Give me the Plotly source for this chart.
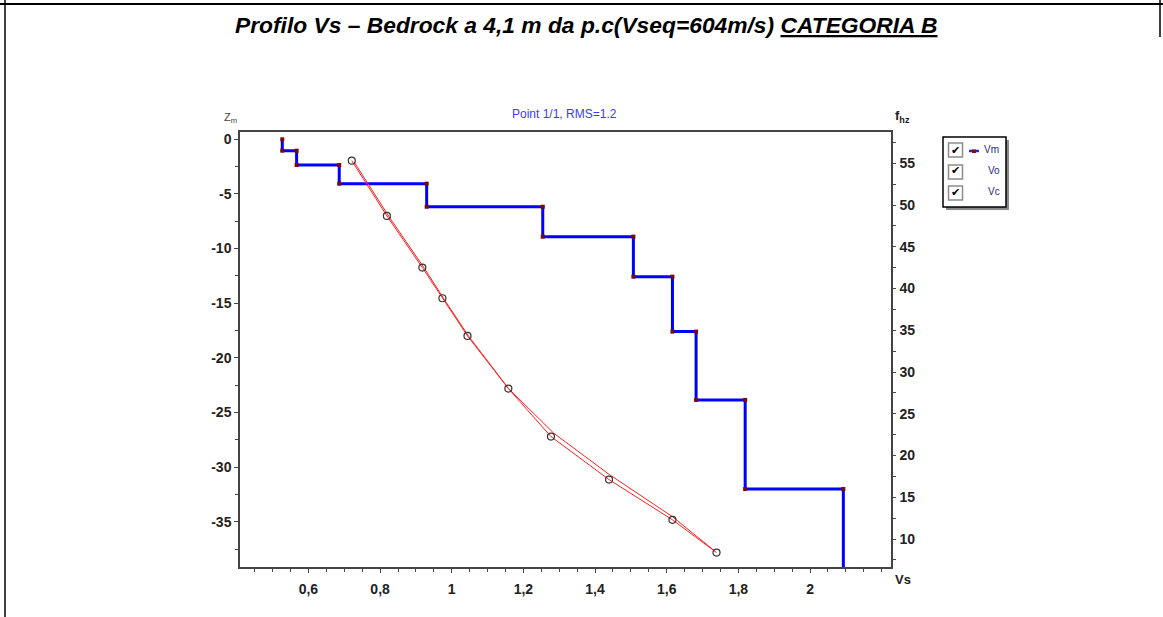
import plotly.graph_objects as go

# ---------------- data ----------------
# Vm: layered Vs model (layer velocity, layer top depth in m)
layer_vs = [0.527, 0.567, 0.686, 0.930, 1.254, 1.507, 1.616, 1.682, 1.819, 2.093]
layer_top = [0.0, -1.04, -2.35, -4.06, -6.17, -8.91, -12.57, -17.6, -23.85, -32.0]
halfspace_bottom = -45.0

# Vo: observed curve (Vs vs frequency Hz)
vo_vs = [0.721, 0.819, 0.918, 0.974, 1.044, 1.158, 1.277, 1.439, 1.616, 1.739]
vo_f = [55.31, 48.70, 42.51, 38.84, 34.33, 28.02, 22.27, 17.12, 12.30, 8.38]

# Vc: computed curve
vc_vs = [0.727, 0.825, 0.924, 0.979, 1.047, 1.158, 1.284, 1.439, 1.616, 1.733]
vc_f = [55.20, 48.60, 42.40, 38.70, 34.30, 28.05, 22.70, 17.75, 12.68, 8.60]

x_tickvals = [0.6, 0.8, 1.0, 1.2, 1.4, 1.6, 1.8, 2.0]
x_ticktext = ["0,6", "0,8", "1", "1,2", "1,4", "1,6", "1,8", "2"]
z_tickvals = [0, -5, -10, -15, -20, -25, -30, -35]
z_ticktext = ["0", "-5", "-10", "-15", "-20", "-25", "-30", "-35"]
f_tickvals = [10, 15, 20, 25, 30, 35, 40, 45, 50, 55]

# ---------------- geometry ----------------
W, H = 1163, 617
L, R, T, B = 240, 891, 132, 567


def px(x):
    return (x - L) / (R - L)


def py(y):
    return (B - y) / (B - T)


# step line
step_x, step_y = [], []
bottoms = layer_top[1:] + [halfspace_bottom]
for v, t, b in zip(layer_vs, layer_top, bottoms):
    step_x += [v, v]
    step_y += [t, b]

tickfont = dict(family="Liberation Sans", size=14, color="#222222", weight="bold")
axcol = "#444444"

fig = go.Figure()
fig.add_trace(go.Scatter(
    x=step_x, y=step_y, mode="lines+markers",
    line=dict(color="#0000ff", width=3),
    marker=dict(symbol="square", size=4, color="#7a0a0a"),
    yaxis="y", showlegend=False, name="Vm"))
fig.add_trace(go.Scatter(
    x=vc_vs, y=vc_f, mode="lines",
    line=dict(color="#ff2020", width=1),
    yaxis="y2", showlegend=False, name="Vc"))
fig.add_trace(go.Scatter(
    x=vo_vs, y=vo_f, mode="lines+markers",
    line=dict(color="#ff2020", width=1),
    marker=dict(symbol="circle-open", size=7, color="#333333", line=dict(width=1.2, color="#333333")),
    yaxis="y2", showlegend=False, name="Vo"))

fig.update_layout(
    width=W, height=H,
    margin=dict(l=L, r=W - R, t=T, b=H - B, pad=0),
    paper_bgcolor="white", plot_bgcolor="white",
    showlegend=False,
    xaxis=dict(range=[0.409, 2.226], tickvals=x_tickvals, ticktext=x_ticktext,
               ticks="outside", ticklen=4, tickcolor=axcol, tickwidth=1,
               showgrid=False, zeroline=False, showline=True, linecolor=axcol, linewidth=1.5,
               mirror=True, tickfont=tickfont, ticklabelstandoff=4,
               minor=dict(dtick=0.05, tick0=0.6, ticks="outside", ticklen=3, tickcolor=axcol)),
    yaxis=dict(range=[-39.14, 0.668], tickvals=z_tickvals, ticktext=z_ticktext,
               ticks="outside", ticklen=4, tickcolor=axcol,
               showgrid=False, zeroline=False, showline=True, linecolor=axcol, linewidth=1.5,
               tickfont=tickfont,
               minor=dict(dtick=2.5, tick0=0, ticks="outside", ticklen=3, tickcolor=axcol)),
    yaxis2=dict(range=[6.65, 58.75], tickvals=f_tickvals, overlaying="y", side="right",
                ticks="outside", ticklen=3, tickcolor=axcol,
                showgrid=False, zeroline=False, showline=True, linecolor=axcol, linewidth=1.5,
                tickfont=tickfont, ticklabelstandoff=1,
                minor=dict(dtick=2.5, tick0=0, ticks="outside", ticklen=3, tickcolor=axcol)),
)

shapes = []
# page borders
shapes.append(dict(type="line", xref="paper", yref="paper", x0=px(0), x1=px(W), y0=py(4), y1=py(4),
                   line=dict(color="black", width=2)))
shapes.append(dict(type="line", xref="paper", yref="paper", x0=px(5), x1=px(5), y0=py(0), y1=py(H),
                   line=dict(color="black", width=1.5)))
shapes.append(dict(type="line", xref="paper", yref="paper", x0=px(1160), x1=px(1160), y0=py(0), y1=py(37),
                   line=dict(color="black", width=1.5)))
# legend box with shadow
shapes.append(dict(type="rect", xref="paper", yref="paper", x0=px(946), x1=px(1009), y0=py(140), y1=py(210),
                   fillcolor="#8a8a8a", line=dict(width=0)))
shapes.append(dict(type="rect", xref="paper", yref="paper", x0=px(943), x1=px(1006), y0=py(137), y1=py(207),
                   fillcolor="white", line=dict(color="black", width=1.5)))
for cy in [150, 172, 193]:
    shapes.append(dict(type="rect", xref="paper", yref="paper", x0=px(948.5), x1=px(962.5),
                       y0=py(cy - 7), y1=py(cy + 7), fillcolor="white",
                       line=dict(color="#8c8c8c", width=1.5)))
# Vm legend symbol
shapes.append(dict(type="line", xref="paper", yref="paper", x0=px(969), x1=px(979), y0=py(151), y1=py(151),
                   line=dict(color="#2020ff", width=2.5)))
shapes.append(dict(type="rect", xref="paper", yref="paper", x0=px(972), x1=px(976), y0=py(149.5), y1=py(153),
                   fillcolor="#8b0a0a", line=dict(width=0)))

ann = []
ann.append(dict(xref="paper", yref="paper", x=px(586), y=py(25), xanchor="center", yanchor="middle",
                showarrow=False,
                text="<b><i>Profilo Vs – Bedrock a 4,1 m da p.c(Vseq=604m/s) <u>CATEGORIA B</u></i></b>",
                font=dict(family="Liberation Sans", size=22.8, color="black")))
ann.append(dict(xref="paper", yref="paper", x=px(564), y=py(114), xanchor="center", yanchor="middle",
                showarrow=False, text="Point 1/1, RMS=1.2",
                font=dict(family="Liberation Sans", size=12, color="#3b3bff")))
ann.append(dict(xref="paper", yref="paper", x=px(222), y=py(118), xanchor="left", yanchor="middle",
                showarrow=False, text="Z<sub>m</sub>",
                font=dict(family="Liberation Sans", size=11, color="#444444")))
ann.append(dict(xref="paper", yref="paper", x=px(893), y=py(117), xanchor="left", yanchor="middle",
                showarrow=False, text="<b>f<sub>hz</sub></b>",
                font=dict(family="Liberation Sans", size=13, color="#222222")))
ann.append(dict(xref="paper", yref="paper", x=px(893), y=py(579), xanchor="left", yanchor="middle",
                showarrow=False, text="<b>Vs</b>",
                font=dict(family="Liberation Sans", size=13, color="#222222")))
for cy, lab, lx in [(150, "Vm", 982), (171, "Vo", 986), (192, "Vc", 986)]:
    ann.append(dict(xref="paper", yref="paper", x=px(955.5), y=py(cy), xanchor="center", yanchor="middle",
                    showarrow=False, text="✔",
                    font=dict(family="DejaVu Sans", size=11, color="black")))
    ann.append(dict(xref="paper", yref="paper", x=px(lx), y=py(cy - 1), xanchor="left", yanchor="middle",
                    showarrow=False, text=lab,
                    font=dict(family="Liberation Sans", size=10, color="#2a2a7a")))

fig.update_layout(shapes=shapes, annotations=ann)
fig.write_html("out.html", config={"displayModeBar": False},
               post_script="document.body.style.margin='0';document.body.style.overflow='hidden';")
